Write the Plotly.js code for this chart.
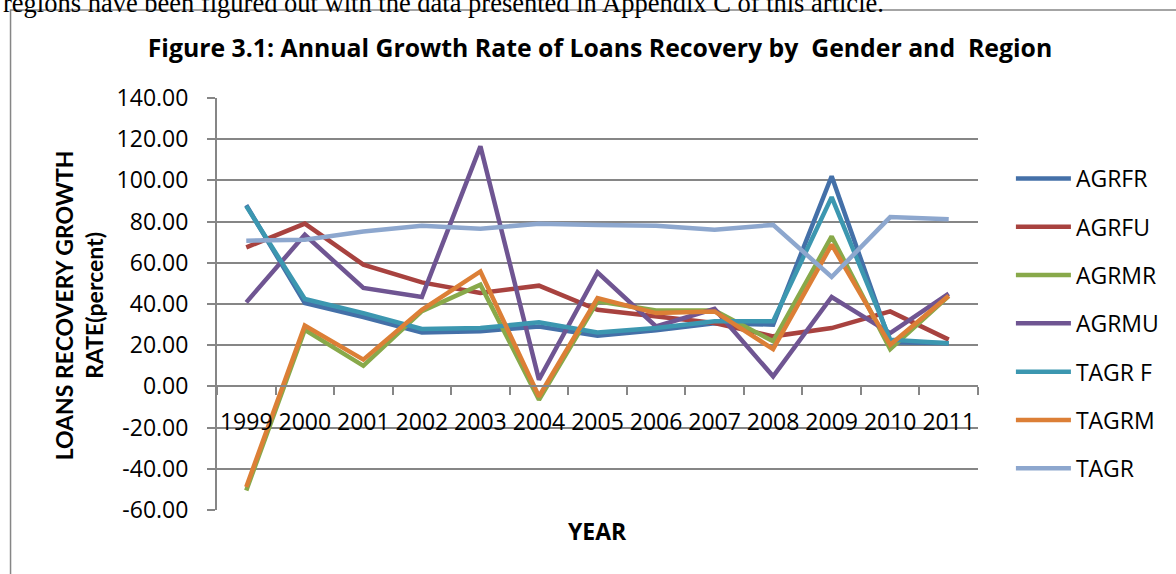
<!DOCTYPE html>
<html>
<head>
<meta charset="utf-8">
<script src="https://cdn.plot.ly/plotly-3.0.1.min.js"></script>
<style>
html,body{margin:0;padding:0;background:#fff;}
#chart{width:1176px;height:574px;}
</style>
</head>
<body>
<div id="chart"></div>
<script>
// ---- data ----
var years = ["1999","2000","2001","2002","2003","2004","2005","2006","2007","2008","2009","2010","2011"];
var seriesNames = ["AGRFR","AGRFU","AGRMR","AGRMU","TAGR F","TAGRM","TAGR"];
var AGRFR  = [88.0, 40.5, 33.7, 26.2, 26.8, 29.1, 24.6, 27.2, 30.7, 30.0, 102.0, 21.4, 21.0];
var AGRFU  = [67.5, 79.0, 59.1, 50.5, 45.3, 48.9, 37.2, 34.0, 30.8, 24.3, 28.3, 36.4, 22.7];
var AGRMR  = [-50.5, 27.5, 10.0, 36.5, 49.4, -6.5, 41.3, 36.9, 36.9, 21.9, 72.8, 18.1, 43.8];
var AGRMU  = [40.8, 73.6, 47.8, 43.4, 116.5, 3.3, 55.4, 29.1, 37.6, 4.9, 43.4, 25.9, 45.0];
var TAGRF  = [87.5, 42.4, 35.6, 27.9, 28.3, 31.1, 26.2, 28.3, 31.6, 31.6, 91.9, 22.7, 21.0];
var TAGRM  = [-48.8, 29.5, 13.0, 37.2, 55.8, -4.9, 42.9, 35.6, 36.4, 18.1, 68.8, 20.2, 44.0];
var TAGR   = [70.7, 71.2, 75.2, 78.0, 76.5, 79.0, 78.4, 78.0, 76.0, 78.4, 53.1, 82.2, 81.2];
var yTicks = [-60, -40, -20, 0, 20, 40, 60, 80, 100, 120, 140];
var yTickText = yTicks.map(function(v){ return v.toFixed(2); });

var seriesValues = [AGRFR, AGRFU, AGRMR, AGRMU, TAGRF, TAGRM, TAGR];
var colors = ["#4470A8", "#A8423F", "#88A94A", "#6F5592", "#3C97B0", "#DC7F36", "#8DA7CE"];

// ---- geometry helpers (plot area in px) ----
var W = 1176, H = 574;
var mL = 217, mR = 196, mT = 98, mB = 64;
var pw = W - mL - mR, ph = H - mT - mB;
function px2x(p){ return (p - mL) / pw; }
function px2y(p){ return (H - mB - p) / ph; }

var traces = seriesNames.map(function(n, i){
  return {
    type: "scatter", mode: "lines", name: n,
    x: years, y: seriesValues[i],
    line: {color: colors[i], width: 4.5},
    legendgroup: "g" + i,
    hoverinfo: "x+y+name"
  };
});

var gridCol = "#868686";
var layout = {
  width: W, height: H,
  margin: {l: mL, r: mR, t: mT, b: mB},
  paper_bgcolor: "#fff", plot_bgcolor: "#fff",
  font: {family: "Open Sans, sans-serif", size: 23, color: "#000"},
  title: {
    text: "<b>Figure 3.1: Annual Growth Rate of Loans Recovery by  Gender and  Region</b>",
    font: {family: "Open Sans, sans-serif", size: 24.8, color: "#000"},
    x: 600 / W, xanchor: "center", y: 1 - 48 / H, yanchor: "middle"
  },
  xaxis: {
    type: "category",
    range: [-0.5, 12.5],
    anchor: "free", position: 0.3,
    showline: true, linecolor: gridCol, linewidth: 2,
    ticks: "outside", tickson: "boundaries", ticklen: 8, tickcolor: gridCol, tickwidth: 2,
    showgrid: false, zeroline: false,
    tickangle: 0,
    tickfont: {family: "Open Sans, sans-serif", size: 23, color: "#000"},
    ticklabelstandoff: 15,
    fixedrange: true
  },
  yaxis: {
    range: [-60, 140],
    tickvals: yTicks,
    ticktext: yTickText,
    showline: true, linecolor: gridCol, linewidth: 2,
    ticks: "outside", ticklen: 8, tickcolor: gridCol, tickwidth: 2,
    showgrid: true, gridcolor: gridCol, gridwidth: 2,
    zeroline: false,
    tickfont: {family: "Open Sans, sans-serif", size: 23, color: "#000"},
    ticklabelstandoff: 14,
    fixedrange: true
  },
  showlegend: true,
  legend: {
    x: px2x(1013), xanchor: "left",
    y: px2y(157), yanchor: "top",
    font: {family: "Open Sans, sans-serif", size: 23, color: "#000"},
    tracegroupgap: 15.4,
    itemwidth: 55,
    bgcolor: "rgba(0,0,0,0)",
    traceorder: "grouped"
  },
  annotations: [
    {
      text: "<b>YEAR</b>", xref: "paper", yref: "paper",
      x: px2x(598), y: px2y(531), xanchor: "center", yanchor: "middle",
      showarrow: false, font: {family: "Open Sans, sans-serif", size: 23, color: "#000"}
    },
    {
      text: "<b>LOANS RECOVERY GROWTH<br>RATE(percent)</b>", xref: "paper", yref: "paper",
      x: px2x(79), y: px2y(305), xanchor: "center", yanchor: "middle",
      textangle: -90, showarrow: false,
      font: {family: "Lato, sans-serif", size: 23, color: "#000"}
    },
    {
      text: "regions have been figured out with the data presented in Appendix C of this article.",
      xref: "paper", yref: "paper",
      x: px2x(0), y: px2y(2.5), xanchor: "left", yanchor: "middle",
      showarrow: false,
      font: {family: "Liberation Serif, serif", size: 26.5, color: "#000"}
    }
  ],
  shapes: [
    {
      type: "rect", xref: "paper", yref: "paper", layer: "below",
      x0: px2x(10), x1: px2x(1200), y0: px2y(600), y1: px2y(10),
      line: {color: gridCol, width: 1.5}, fillcolor: "rgba(0,0,0,0)"
    }
  ]
};

Plotly.newPlot("chart", traces, layout, {displayModeBar: false, responsive: false});
</script>
</body>
</html>
